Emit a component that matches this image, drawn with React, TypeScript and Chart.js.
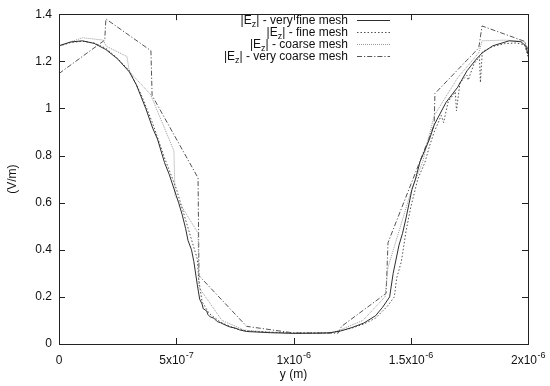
import React, { useEffect, useRef } from "react";
import { Chart, registerables } from "chart.js";

Chart.register(...registerables);

// x values are given in units of 1e-7 m
const X_UNIT = 1e-7;

const veryFineX = [0, 0.5, 1.0, 1.5, 2.0, 2.5, 3.0, 3.3, 3.5, 3.7, 4.0, 4.2, 4.5, 4.7, 5.0, 5.1, 5.25, 5.4, 5.5, 5.65, 5.75, 5.9, 6.0, 6.1, 6.15, 6.3, 6.35, 6.45, 6.6, 6.75, 6.9, 7.1, 7.3, 7.5, 7.7, 8.0, 9.0, 10.0, 11.0, 11.5, 12.0, 12.5, 13.0, 13.5, 13.8, 14.1, 14.25, 14.5, 14.65, 14.8, 15.05, 15.2, 15.4, 15.8, 16.0, 16.5, 17.0, 17.4, 17.8, 18.05, 18.5, 19.2, 19.7, 19.9, 20.0];
const veryFineY = [1.266, 1.282, 1.287, 1.276, 1.25, 1.21, 1.155, 1.1, 1.05, 1.0, 0.915, 0.87, 0.77, 0.72, 0.63, 0.6, 0.55, 0.49, 0.44, 0.4, 0.35, 0.25, 0.19, 0.17, 0.15, 0.14, 0.125, 0.115, 0.11, 0.095, 0.09, 0.08, 0.072, 0.068, 0.06, 0.053, 0.048, 0.045, 0.046, 0.047, 0.055, 0.07, 0.089, 0.12, 0.156, 0.2, 0.3, 0.42, 0.47, 0.535, 0.655, 0.7, 0.775, 0.87, 0.93, 1.025, 1.09, 1.16, 1.21, 1.236, 1.266, 1.287, 1.283, 1.266, 1.23];

const fineX = [0, 0.5, 1.0, 1.5, 2.0, 2.5, 3.0, 3.5, 4.0, 4.5, 5.0, 5.3, 5.6, 5.9, 5.95, 6.1, 6.4, 6.9, 7.5, 8.0, 9.0, 10.0, 11.0, 11.6, 12.0, 12.5, 13.0, 13.5, 14.0, 14.3, 14.4, 14.6, 14.8, 15.0, 15.3, 15.6, 15.8, 16.0, 16.3, 16.4, 16.6, 16.9, 16.95, 17.1, 17.4, 17.45, 17.7, 17.93, 17.97, 18.05, 18.5, 19.0, 19.5, 19.85, 20.0];
const fineY = [1.264, 1.28, 1.285, 1.278, 1.255, 1.212, 1.16, 1.06, 0.935, 0.79, 0.66, 0.56, 0.46, 0.36, 0.28, 0.18, 0.13, 0.092, 0.066, 0.055, 0.05, 0.047, 0.047, 0.048, 0.056, 0.068, 0.085, 0.11, 0.16, 0.2, 0.28, 0.35, 0.48, 0.58, 0.7, 0.77, 0.84, 0.9, 0.97, 0.94, 1.03, 1.07, 0.99, 1.11, 1.14, 1.12, 1.19, 1.22, 1.11, 1.24, 1.263, 1.275, 1.278, 1.27, 1.22];

const coarseX = [0, 1.0, 1.9, 2.0, 2.9, 3.0, 3.9, 4.9, 4.95, 5.93, 5.97, 6.95, 7.9, 9.0, 10.0, 11.0, 11.6, 12.0, 12.96, 13.9, 14.03, 15.05, 15.5, 16.0, 17.0, 17.9, 18.04, 19.0, 19.85, 20.0];
const coarseY = [1.266, 1.3, 1.29, 1.265, 1.22, 1.156, 1.06, 0.82, 0.63, 0.47, 0.24, 0.1, 0.059, 0.05, 0.047, 0.046, 0.047, 0.06, 0.1, 0.2, 0.325, 0.66, 0.77, 0.97, 1.13, 1.236, 1.287, 1.29, 1.285, 1.24];

const veryCoarseX = [0, 1.95, 2.0, 3.92, 3.97, 5.93, 5.97, 8.0, 10.0, 11.9, 12.05, 13.95, 14.03, 16.0, 16.03, 17.9, 18.04, 19.85, 20.0];
const veryCoarseY = [1.148, 1.29, 1.38, 1.245, 1.055, 0.705, 0.29, 0.075, 0.047, 0.046, 0.075, 0.215, 0.43, 0.93, 1.063, 1.257, 1.35, 1.285, 1.25];

const seriesNames = ["very fine mesh", "fine mesh", "coarse mesh", "very coarse mesh"];

const xTickValues = [0, 5e-7, 1e-6, 1.5e-6, 2e-6];
const xTickBase = ["0", "5x10", "1x10", "1.5x10", "2x10"];
const xTickExp = ["", "-7", "-6", "-6", "-6"];
const yTickValues = [0, 0.2, 0.4, 0.6, 0.8, 1.0, 1.2, 1.4];

const FONT = "'Liberation Sans', Arial, Helvetica, sans-serif";

const styles = [
  { color: "#2e2e2e", dash: [] as number[] },
  { color: "#505050", dash: [1.5, 2] },
  { color: "#9a9a9a", dash: [1, 1] },
  { color: "#555555", dash: [5, 2, 1.2, 2] },
];

function toPoints(xs: number[], ys: number[]) {
  return xs.map((x, i) => ({ x: x * X_UNIT, y: ys[i] }));
}

const framePlugin = {
  id: "gnuframe",
  afterDraw(chart: any) {
    const { ctx, chartArea, scales } = chart;
    const { left, right, top, bottom } = chartArea;
    const xs = scales.x;
    const ys = scales.y;
    ctx.save();
    ctx.strokeStyle = "#222";
    ctx.lineWidth = 1;
    ctx.setLineDash([]);
    ctx.strokeRect(Math.round(left) + 0.5, Math.round(top) + 0.5, Math.round(right - left), Math.round(bottom - top));
    const tl = 6;
    ctx.beginPath();
    yTickValues.forEach((v) => {
      const py = Math.round(ys.getPixelForValue(v)) + 0.5;
      ctx.moveTo(left, py);
      ctx.lineTo(left + tl, py);
      ctx.moveTo(right, py);
      ctx.lineTo(right - tl, py);
    });
    xTickValues.forEach((v) => {
      const px = Math.round(xs.getPixelForValue(v)) + 0.5;
      ctx.moveTo(px, bottom);
      ctx.lineTo(px, bottom - tl);
      ctx.moveTo(px, top);
      ctx.lineTo(px, top + tl);
    });
    ctx.stroke();

    // x tick labels with superscript exponents
    ctx.fillStyle = "#111";
    ctx.textBaseline = "alphabetic";
    ctx.textAlign = "left";
    xTickValues.forEach((v, i) => {
      const px = xs.getPixelForValue(v);
      ctx.font = `12px ${FONT}`;
      const wb = ctx.measureText(xTickBase[i]).width;
      ctx.font = `9px ${FONT}`;
      const we = xTickExp[i] ? ctx.measureText(xTickExp[i]).width : 0;
      const start = px - (wb + we) / 2;
      const base = bottom + 20;
      ctx.font = `12px ${FONT}`;
      ctx.fillText(xTickBase[i], start, base);
      if (xTickExp[i]) {
        ctx.font = `9px ${FONT}`;
        ctx.fillText(xTickExp[i], start + wb + 0.5, base - 6);
      }
    });

    // legend (right-aligned text, sample line to the right)
    const rowsY = [20, 32, 44, 56];
    const textRight = 348;
    seriesNames.forEach((name, i) => {
      const y = rowsY[i];
      const rest = "| - " + name;
      ctx.font = `12px ${FONT}`;
      const w1 = ctx.measureText("|E").width;
      const w3 = ctx.measureText(rest).width;
      ctx.font = `9px ${FONT}`;
      const w2 = ctx.measureText("z").width;
      const x0 = textRight - (w1 + w2 + w3);
      ctx.fillStyle = "#111";
      ctx.textBaseline = "alphabetic";
      ctx.font = `12px ${FONT}`;
      ctx.fillText("|E", x0, y + 4);
      ctx.font = `9px ${FONT}`;
      ctx.fillText("z", x0 + w1, y + 7);
      ctx.font = `12px ${FONT}`;
      ctx.fillText(rest, x0 + w1 + w2, y + 4);
      ctx.strokeStyle = styles[i].color;
      ctx.setLineDash(styles[i].dash);
      ctx.beginPath();
      ctx.moveTo(357, y + 0.5);
      ctx.lineTo(390, y + 0.5);
      ctx.stroke();
      ctx.setLineDash([]);
    });
    ctx.restore();
  },
};

export default function App() {
  const canvasRef = useRef<HTMLCanvasElement | null>(null);

  useEffect(() => {
    if (!canvasRef.current) return;
    const seriesData = [
      toPoints(veryFineX, veryFineY),
      toPoints(fineX, fineY),
      toPoints(coarseX, coarseY),
      toPoints(veryCoarseX, veryCoarseY),
    ];
    const chart = new Chart(canvasRef.current, {
      type: "line",
      data: {
        datasets: seriesNames.map((name, i) => ({
          label: "|Ez| - " + name,
          data: seriesData[i],
          borderColor: styles[i].color,
          borderDash: styles[i].dash,
          borderWidth: 1,
          pointRadius: 0,
          tension: 0,
          fill: false,
        })),
      },
      options: {
        animation: false,
        responsive: false,
        maintainAspectRatio: false,
        layout: { padding: { top: 12, right: 22, left: 0, bottom: 0 } },
        plugins: {
          legend: { display: false },
          tooltip: { enabled: false },
        },
        scales: {
          x: {
            type: "linear",
            min: 0,
            max: 2e-6,
            grid: { display: false, drawTicks: false },
            border: { display: false },
            ticks: { display: false, stepSize: 5e-7 },
            title: {
              display: true,
              text: "y (m)",
              color: "#111",
              font: { family: FONT, size: 12 },
              padding: { top: 4, bottom: 4 },
            },
            afterFit: (s: any) => {
              s.height = 42;
            },
          },
          y: {
            type: "linear",
            min: 0,
            max: 1.4,
            grid: { display: false, drawTicks: false },
            border: { display: false },
            afterBuildTicks: (s: any) => {
              s.ticks = yTickValues.map((v) => ({ value: v }));
            },
            ticks: {
              color: "#111",
              padding: 7,
              font: { family: FONT, size: 12 },
              callback: (v: any) => String(Number(Number(v).toFixed(1))),
            },
            title: {
              display: true,
              text: "(V/m)",
              color: "#111",
              font: { family: FONT, size: 12 },
              padding: { top: 5, bottom: 4 },
            },
            afterFit: (s: any) => {
              s.width = 59;
            },
          },
        },
      },
      plugins: [framePlugin],
    });
    return () => chart.destroy();
  }, []);

  return (
    <div style={{ position: "absolute", left: 0, top: 0, width: 550, height: 386, background: "#fff" }}>
      <canvas ref={canvasRef} width={550} height={386} style={{ width: 550, height: 386 }} />
    </div>
  );
}
